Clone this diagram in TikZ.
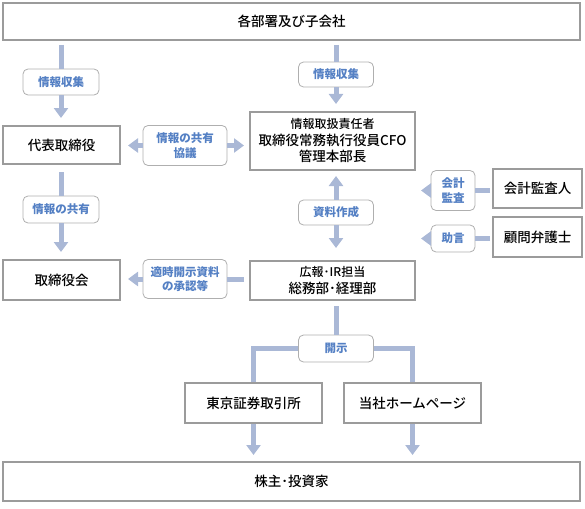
\documentclass[tikz,border=0pt]{standalone}
\usepackage{fontspec}
\setmainfont{Noto Sans CJK JP}
\newfontfamily\boxfont{Noto Sans CJK JP Medium}
\usetikzlibrary{positioning, arrows.meta}
\definecolor{boxgray}{RGB}{155,155,155}
\definecolor{flowblue}{RGB}{170,184,214}
\definecolor{tagblue}{RGB}{84,128,196}
\tikzset{
unit/.style={ % Plain boxes for departments and parties
draw=boxgray, line width=2pt, fill=white,
inner sep=0pt, align=center,
font=\boxfont\fontsize{13.5}{16.5}\selectfont},
tag/.style={ % Rounded labels sitting on the flows
draw=boxgray!80, line width=0.8pt, rounded corners=5pt, fill=white,
inner sep=0pt, align=center, text=tagblue,
font=\bfseries\fontsize{11.5}{14.5}\selectfont},
bar/.style={draw=flowblue, line width=5pt}, % Flow without a head
flow/.style={bar, -{Triangle[width=14pt,length=10pt]}} % Flow with a head
}

\begin{document}
\begin{tikzpicture}[x=1pt, y=-1pt]
    \useasboundingbox (0,0) rectangle (585,508);
    
    % boxes
    \node[unit, minimum width=577pt, minimum height=37pt] (bumon) at (291.5,21.5) {各部署及び子会社};
    \node[unit, minimum width=117pt, minimum height=38pt] (daihyo) at (61.5,145) {代表取締役};
    \node[unit, minimum width=165pt, minimum height=58pt] (sekinin) at (332.5,141)
        {{\fontsize{12}{15}\selectfont 情報取扱責任者}\\取締役常務執行役員CFO\\管理本部長};
    \node[unit, minimum width=89pt, minimum height=39pt] (kansa) at (537.5,188.5) {会計監査人};
    \node[unit, minimum width=89pt, minimum height=40pt] (bengo) at (537.5,237) {顧問弁護士};
    \node[unit, minimum width=117pt, minimum height=40pt] (torikai) at (61.5,280) {取締役会};
    \node[unit, minimum width=165pt, minimum height=39pt] (kouhou) at (332.5,280.5)
        {{\fontsize{12}{15}\selectfont 広報･IR担当}\\総務部･経理部};
    \node[unit, minimum width=137pt, minimum height=40pt] (tosho) at (253.5,403) {東京証券取引所};
    \node[unit, minimum width=137pt, minimum height=40pt] (hp) at (412.5,403) {当社ホームページ};
    \node[unit, minimum width=577pt, minimum height=39pt] (kabu) at (291.5,481.5) {株主･投資家};
    
    % tags
    \node[tag, minimum width=76pt, minimum height=26pt] (shushuA) at (61,82) {情報収集};
    \node[tag, minimum width=75pt, minimum height=25pt] (shushuB) at (336,74.5) {情報収集};
    \node[tag, minimum width=84pt, minimum height=40pt] (kyoyuA) at (185,145.5) {情報の共有\\協議};
    \node[tag, minimum width=76pt, minimum height=27pt] (kyoyuB) at (61,209.5) {情報の共有};
    \node[tag, minimum width=75pt, minimum height=25pt] (shiryo) at (336,212.5) {資料作成};
    \node[tag, minimum width=44pt, minimum height=40pt] (kansaT) at (453,190.5) {会計\\監査};
    \node[tag, minimum width=44pt, minimum height=27pt] (jogen) at (453,238.5) {助言};
    \node[tag, minimum width=84pt, minimum height=39pt] (tekiji) at (185,279) {適時開示資料\\の承認等};
    \node[tag, minimum width=75pt, minimum height=27pt] (kaiji) at (336,348.5) {開示};
    
    % flows
    \draw[bar, shorten <=4pt] (bumon.south -| shushuA) -- (shushuA.north);
    \draw[flow, shorten >=7pt] (shushuA.south) -- (daihyo.north -| shushuA);
    \draw[bar, shorten <=4pt] (bumon.south -| shushuB) -- (shushuB.north);
    \draw[flow, shorten >=7pt] (shushuB.south) -- (sekinin.north -| shushuB);
    
    \draw[flow, shorten >=7pt] (kyoyuA.west) -- (daihyo.east |- kyoyuA);
    \draw[flow, shorten >=5pt] (kyoyuA.east) -- (sekinin.west |- kyoyuA);
    
    \draw[bar, shorten <=7pt] (daihyo.south -| kyoyuB) -- (kyoyuB.north);
    \draw[flow, shorten >=7pt] (kyoyuB.south) -- (torikai.north -| kyoyuB);
    
    \draw[flow, shorten >=5pt] (shiryo.north) -- (sekinin.south -| shiryo);
    \draw[flow, shorten >=12pt] (shiryo.south) -- (kouhou.north -| shiryo);
    
    \draw[bar, shorten <=2pt] (kansa.west |- kansaT) -- (kansaT.east);
    \draw[flow, shorten >=5pt] (kansaT.west) -- (sekinin.east |- kansaT);
    \draw[bar, shorten <=2pt] (bengo.west |- jogen) -- (jogen.east);
    \draw[flow, shorten >=5pt] (jogen.west) -- (sekinin.east |- jogen);
    
    \draw[bar, shorten <=5pt] (kouhou.west |- tekiji) -- (tekiji.east);
    \draw[flow, shorten >=7pt] (tekiji.west) -- (torikai.east |- tekiji);
    
    \draw[bar, shorten <=5pt] (kouhou.south -| kaiji) -- (kaiji.north);
    \draw[bar] (kaiji.west) -| (tosho.north);
    \draw[bar] (kaiji.east) -| (hp.north);
    
    \draw[flow, shorten >=6pt] (tosho.south) -- (kabu.north -| tosho);
    \draw[flow, shorten >=6pt] (hp.south) -- (kabu.north -| hp);
    
\end{tikzpicture}
\end{document}
